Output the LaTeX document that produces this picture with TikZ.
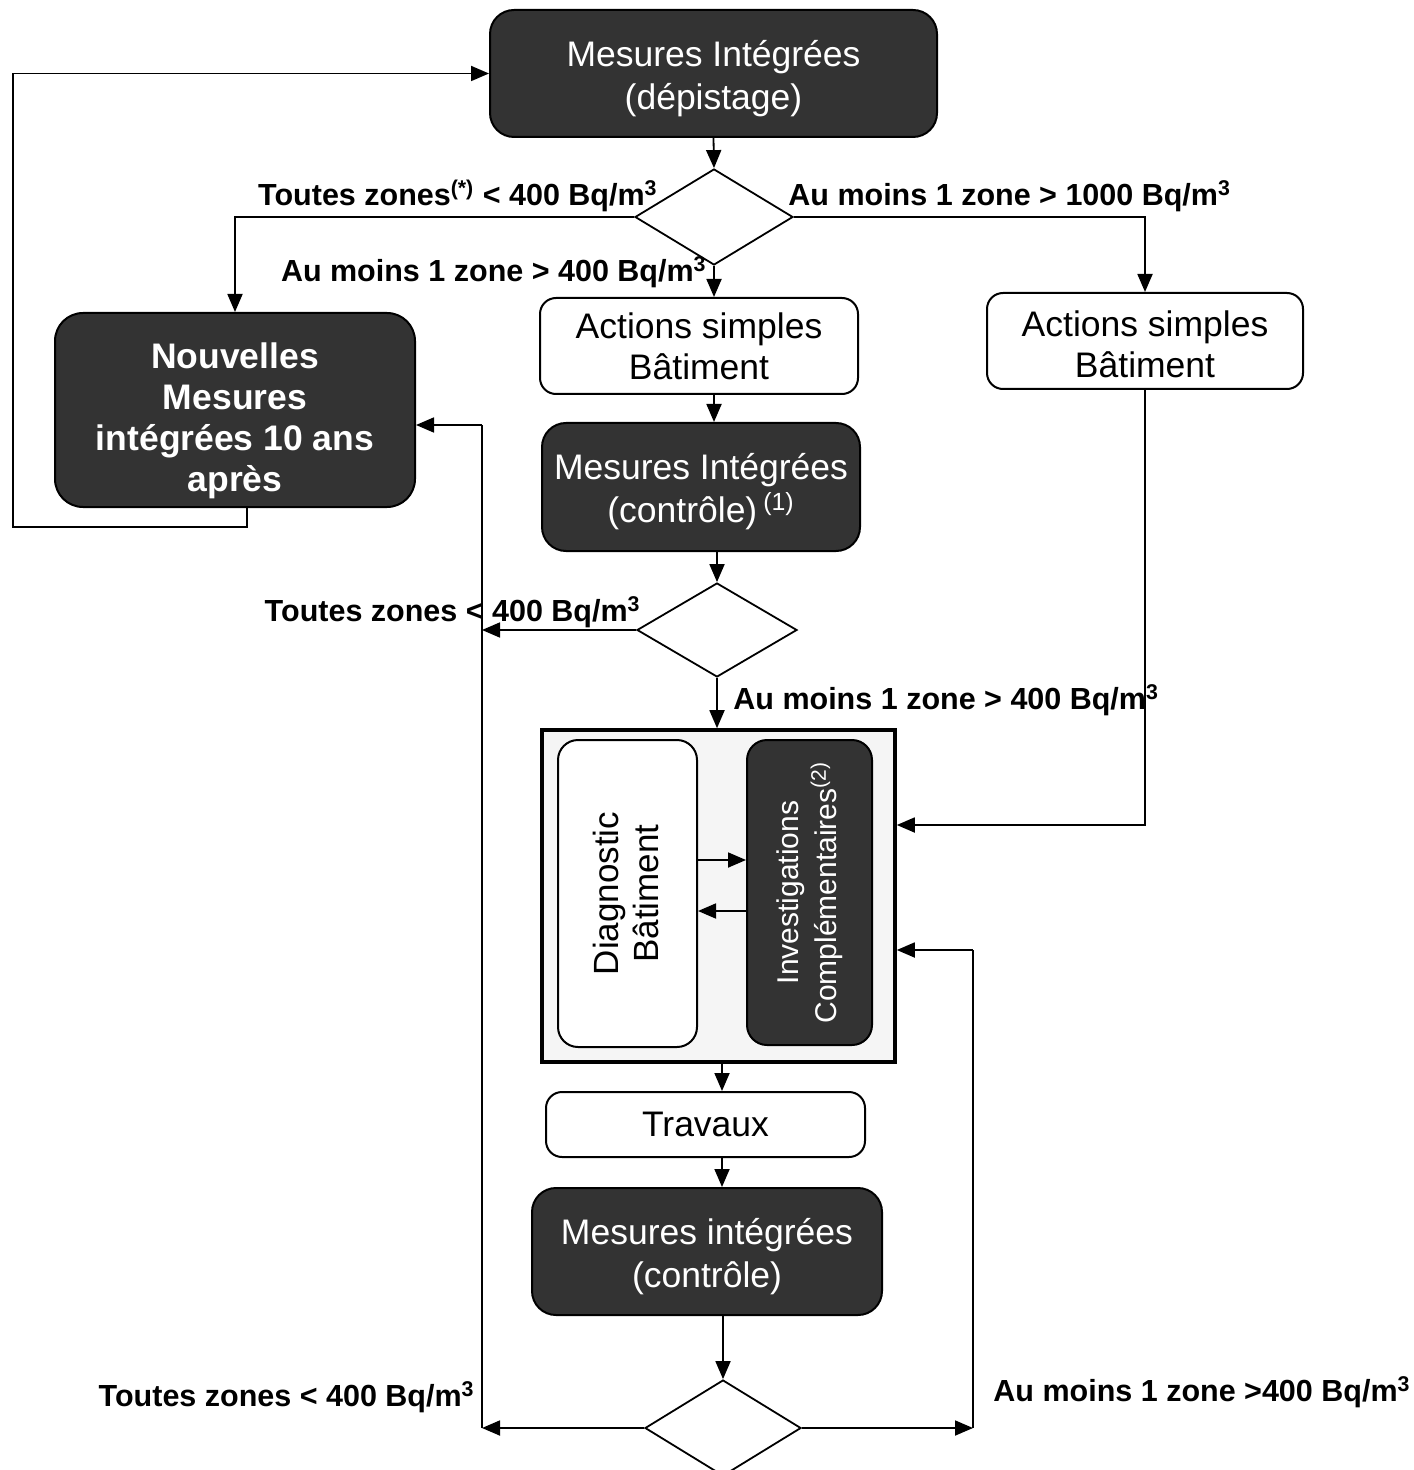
\documentclass[tikz,border=0pt]{standalone}
\usepackage{fontspec}
\setmainfont{Liberation Sans}
\usetikzlibrary{arrows.meta,shapes.geometric,calc}
\begin{document}
\begin{tikzpicture}[x=0.5pt,y=-0.5pt,
 arr/.style={line width=0.9pt,-{Triangle[length=9pt,width=7.5pt]}},
 ln/.style={line width=0.9pt},
 darkbox/.style={draw=black,line width=1pt,fill=black!80,rounded corners=12pt,text=white,align=center,font=\fontsize{17.75}{21.5}\selectfont,inner sep=0pt},
 whitebox/.style={draw=black,line width=1pt,fill=white,rounded corners=8pt,align=center,font=\fontsize{17.75}{20.5}\selectfont,inner sep=0pt},
 decision/.style={diamond,draw=black,line width=0.9pt,fill=white,inner sep=0pt},
 lab/.style={font=\bfseries\fontsize{15.25}{18}\selectfont,inner sep=0pt}]
\useasboundingbox (0,0) rectangle (1413,1470);
\clip (0,0) rectangle (1413,1470);

% boxes
\node[darkbox,minimum width=223.5pt,minimum height=63.5pt] (top) at (713.5,73.5) {};
\node[text=white,align=center,font=\fontsize{17.75}{21.5}\selectfont,inner sep=0pt] (topt) at (713.5,78.5) {Mesures Intégrées\\(dépistage)};
\node[decision,minimum width=79pt,minimum height=48pt] (d1) at (714,217) {};
\node[whitebox,minimum width=159pt,minimum height=48pt] (act1) at (699,346) {Actions simples\\Bâtiment};
\node[whitebox,minimum width=158pt,minimum height=48pt] (act2) at (1145,341) {};
\node[align=center,font=\fontsize{17.75}{20.5}\selectfont,inner sep=0pt] (act2t) at (1145,344) {Actions simples\\Bâtiment};
\node[darkbox,rounded corners=14pt,minimum width=180pt,minimum height=97pt] (nouv) at (235,410) {};
\node[text=white,align=center,font=\bfseries\fontsize{17.75}{20.5}\selectfont,inner sep=0pt] (nouvt) at (235,421) {Nouvelles\\Mesures\\intégrées 10 ans\\après};
\node[darkbox,minimum width=159pt,minimum height=64pt] (ctl1) at (701,487) {};
\node[text=white,align=center,font=\fontsize{17.75}{21.5}\selectfont,inner sep=0pt] (ctl1t) at (701,492) {Mesures Intégrées\\(contrôle)\,\textsuperscript{(1)}};
\node[decision,minimum width=80pt,minimum height=47pt] (d2) at (717,630) {};
\node[draw=black,line width=1.8pt,fill=black!4,minimum width=176.5pt,minimum height=166pt,inner sep=0pt] (cont) at (718.5,896) {};
\node[whitebox,rounded corners=10pt,minimum width=69.5pt,minimum height=153.5pt] (diag) at (627.5,893.5) {};
\node[rotate=90,align=center,font=\fontsize{17.5}{20}\selectfont,inner sep=0pt] (diagt) at ([xshift=-1pt]diag.center) {Diagnostic\\Bâtiment};
\node[darkbox,rounded corners=10pt,minimum width=62.5pt,minimum height=152.5pt] (inv) at (809.5,892.5) {};
\node[rotate=90,align=center,text=white,font=\fontsize{15}{19}\selectfont,inner sep=0pt] (invt) at (inv.center) {Investigations\\Complémentaires\textsuperscript{(2)}};
\node[whitebox,minimum width=159.5pt,minimum height=32.5pt] (trav) at (705.5,1124.5) {Travaux};
\node[darkbox,minimum width=175pt,minimum height=63.5pt] (mes2) at (707,1251.5) {};
\node[text=white,align=center,font=\fontsize{17.75}{21.5}\selectfont,inner sep=0pt] (mes2t) at (707,1257) {Mesures intégrées\\(contrôle)};
\node[decision,minimum width=78pt,minimum height=48pt] (d3) at (723,1428) {};

% labels
\node[lab,anchor=east] (l1) at (658,196) {Toutes zones\textsuperscript{(*)} < 400 Bq/m\textsuperscript{3}};
\node[lab,anchor=west] (l2) at (788,196) {Au moins 1 zone > 1000 Bq/m\textsuperscript{3}};
\node[lab,anchor=east] (l3) at (707,272) {Au moins 1 zone > 400 Bq/m\textsuperscript{3}};
\node[lab,anchor=east] (l4) at (641,612) {Toutes zones < 400 Bq/m\textsuperscript{3}};
\node[lab,anchor=west] (l5) at (733,700) {Au moins 1 zone > 400 Bq/m\textsuperscript{3}};
\node[lab,anchor=east] (l6) at (475,1397) {Toutes zones < 400 Bq/m\textsuperscript{3}};
\node[lab,anchor=west] (l7) at (993,1392) {Au moins 1 zone >400 Bq/m\textsuperscript{3}};

% helper coordinates
\coordinate (loopA) at (13,527);
\coordinate (lb) at (482,1428);
\coordinate (rb) at (973,1428);

% connectors
\draw[arr] (top.south) -- (d1.north);
\draw[arr] (d1.west) -| (nouv.north);
\draw[arr] (d1.east) -| (act2.north);
\draw[arr] (d1.south) -- (d1.south |- act1.north);
\draw[arr] (d1 |- act1.south) -- (d1 |- ctl1.north);
\draw[arr] (d2 |- ctl1.south) -- (d2.north);
\draw[arr] ([xshift=6pt]nouv.south) |- (loopA) |- (top.west);
\draw[ln] (lb) -- (lb |- 0,425);
\draw[arr] (lb |- 0,425) -- ([yshift=-7.5pt]nouv.east);
\draw[arr] (d2.west) -- (d2.west -| lb);
\draw[arr] (d2.south) -- (d2.south |- cont.north);
\draw[arr] (act2.south) |- ([yshift=35.5pt]cont.east);
\draw[arr] ([yshift=16.75pt]diag.east) -- ([yshift=16.75pt]diag.east -| inv.west);
\draw[arr] ([yshift=-9.25pt]inv.west) -- ([yshift=-9.25pt]inv.west -| diag.east);
\draw[ln] (rb) -- (rb |- 0,950);
\draw[arr] (rb |- 0,950) -- ([yshift=-27pt]cont.east);
\draw[arr] ([xshift=1.75pt]cont.south) -- ([xshift=1.75pt]cont.south |- trav.north);
\draw[arr] ([xshift=1.75pt]cont.south |- trav.south) -- ([xshift=1.75pt]cont.south |- mes2.north);
\draw[arr] (d3 |- mes2.south) -- (d3.north);
\draw[arr] (d3.west) -- (lb);
\draw[arr] (d3.east) -- (rb);
\end{tikzpicture}
\end{document}
